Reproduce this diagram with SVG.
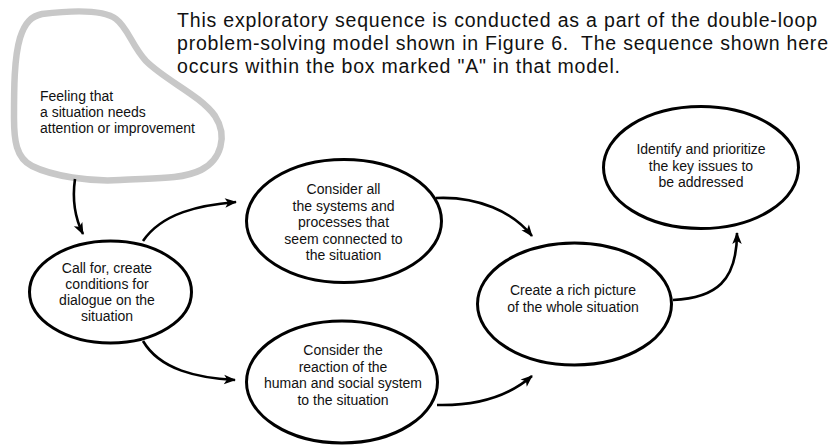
<svg xmlns="http://www.w3.org/2000/svg" width="835" height="445" viewBox="0 0 835 445">
  <style>
    .node ellipse { fill: #fff; stroke: #000; stroke-width: 3; }
    .label { font-family: "Liberation Sans", Arial, sans-serif; font-size: 14px; fill: #111; text-anchor: middle; }
    .blob-label { font-family: "Liberation Sans", Arial, sans-serif; font-size: 14px; fill: #111; }
    .note { font-family: "Liberation Sans", Arial, sans-serif; font-size: 19.5px; fill: #111; }
    .link { fill: none; stroke: #000; stroke-width: 2.6; marker-end: url(#arrow); }
  </style>
  <defs>
    <marker id="arrow" markerUnits="userSpaceOnUse" markerWidth="13" markerHeight="10" refX="11" refY="4.75" orient="auto" overflow="visible">
      <path d="M0,0 L12,4.75 L0,9.5 L3,4.75 Z" fill="#000"/>
    </marker>
  </defs>
  <rect width="835" height="445" fill="#fff"/>

  <!-- explanatory note -->
  <g id="note">
    <text class="note" x="177" y="27" textLength="640" lengthAdjust="spacing">This exploratory sequence is conducted as a part of the double-loop</text>
    <text class="note" x="177" y="50" textLength="651" lengthAdjust="spacing">problem-solving model shown in Figure 6.&#160; The sequence shown here</text>
    <text class="note" x="177" y="73" textLength="443" lengthAdjust="spacing">occurs within the box marked "A" in that model.</text>
  </g>

  <!-- starting feeling (cloud) -->
  <g id="feeling">
    <path d="M42,14 C75,10 104,10 116,19 C128,28 132,46 146,61 C166,81 200,95 215,116 C228,136 221,160 201,170 C181,180 150,178 120,180 C90,182 52,176 32,166 C16,158 14,140 14,118 C14,90 14,58 20,38 C25,22 32,16 42,14 Z" fill="#fff" stroke="#c8c8c8" stroke-width="6.5"/>
    <text class="blob-label" x="40" y="101">Feeling that</text>
    <text class="blob-label" x="40" y="117">a situation needs</text>
    <text class="blob-label" x="40" y="133">attention or improvement</text>
  </g>

  <g id="dialogue" class="node">
    <ellipse cx="110.5" cy="292" rx="81" ry="51"/>
    <text class="label" x="107" y="273">Call for, create</text>
    <text class="label" x="107" y="289">conditions for</text>
    <text class="label" x="107" y="305">dialogue on the</text>
    <text class="label" x="107" y="321">situation</text>
  </g>

  <g id="systems" class="node">
    <ellipse cx="344" cy="221" rx="97.5" ry="61.5"/>
    <text class="label" x="343.5" y="194">Consider all</text>
    <text class="label" x="343.5" y="210.5">the systems and</text>
    <text class="label" x="343.5" y="227">processes that</text>
    <text class="label" x="343.5" y="243.5">seem connected to</text>
    <text class="label" x="343.5" y="260">the situation</text>
  </g>

  <g id="reaction" class="node">
    <ellipse cx="342" cy="382" rx="95.5" ry="61"/>
    <text class="label" x="343" y="355">Consider the</text>
    <text class="label" x="343" y="371.5">reaction of the</text>
    <text class="label" x="343" y="388">human and social system</text>
    <text class="label" x="343" y="404.5">to the situation</text>
  </g>

  <g id="rich-picture" class="node">
    <ellipse cx="574.5" cy="304" rx="97" ry="61"/>
    <text class="label" x="573" y="295">Create a rich picture</text>
    <text class="label" x="573" y="311.5">of the whole situation</text>
  </g>

  <g id="key-issues" class="node">
    <ellipse cx="701" cy="167.5" rx="97.5" ry="61"/>
    <text class="label" x="701" y="154">Identify and prioritize</text>
    <text class="label" x="701" y="170.5">the key issues to</text>
    <text class="label" x="701" y="186.5">be addressed</text>
  </g>

  <g id="connectors">
    <path class="link" d="M75,179 C72,200 75,218 83,234"/>
    <path class="link" d="M143,241 C162,213 200,205 236,202"/>
    <path class="link" d="M143,341 C160,370 198,378 235,380"/>
    <path class="link" d="M436,198 C478,196 513,212 532,236"/>
    <path class="link" d="M437,405 C478,406 510,395 532,376"/>
    <path class="link" d="M673,300 C716,298 737,281 737,233"/>
  </g>
</svg>
